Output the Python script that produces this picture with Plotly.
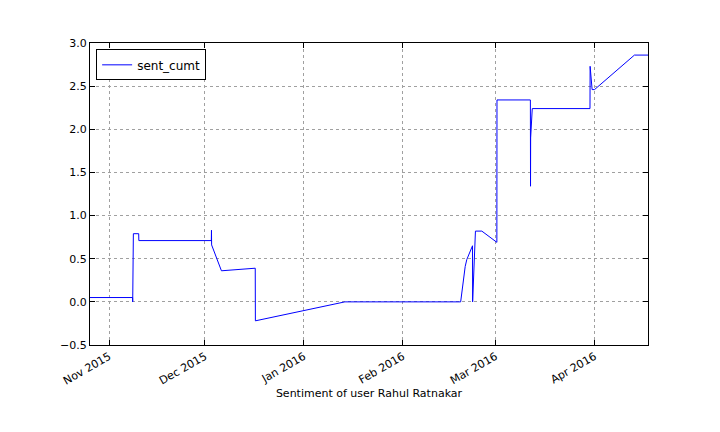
import plotly.graph_objects as go

# cumulative sentiment
dates = [
    "2015-10-26 00:00", "2015-11-08 08:00", "2015-11-08 09:00", "2015-11-08 10:00",
    "2015-11-08 11:00", "2015-11-08 12:00", "2015-11-08 13:00", "2015-11-08 14:00",
    "2015-11-10 06:00", "2015-11-10 07:00", "2015-12-03 00:00", "2015-12-03 01:00",
    "2015-12-03 02:00", "2015-12-06 04:00", "2015-12-16 18:00", "2015-12-16 19:00",
    "2016-01-13 20:00", "2016-02-19 02:00", "2016-02-19 15:00", "2016-02-20 12:00",
    "2016-02-21 00:00", "2016-02-22 19:00", "2016-02-22 20:00", "2016-02-23 17:00",
    "2016-02-25 17:00", "2016-03-01 10:00", "2016-03-01 11:00", "2016-03-11 22:00",
    "2016-03-11 23:00", "2016-03-12 00:00", "2016-03-12 12:00", "2016-03-30 14:00",
    "2016-03-30 15:00", "2016-03-31 06:00", "2016-04-01 00:00", "2016-04-13 12:00",
    "2016-04-17 18:00",
]
sent_cumt = [
    0.05, 0.05, 0.0, 0.22,
    0.12, 0.52, 0.45, 0.79,
    0.79, 0.71, 0.71, 0.83,
    0.66, 0.36, 0.39, -0.22,
    0.0, 0.0, 0.16, 0.41,
    0.49, 0.65, 0.0, 0.82,
    0.82, 0.69, 2.34, 2.34,
    1.34, 1.9, 2.24, 2.24,
    2.73, 2.46, 2.46, 2.86,
    2.86,
]

x_ticks = ["2015-11-01", "2015-12-01", "2016-01-01", "2016-02-01", "2016-03-01", "2016-04-01"]
x_labels = ["Nov 2015", "Dec 2015", "Jan 2016", "Feb 2016", "Mar 2016", "Apr 2016"]
y_ticks = [-0.5, 0.0, 0.5, 1.0, 1.5, 2.0, 2.5, 3.0]
y_labels = ["\u22120.5", "0.0", "0.5", "1.0", "1.5", "2.0", "2.5", "3.0"]

fig = go.Figure(go.Scatter(x=dates, y=sent_cumt, mode="lines", name="sent_cumt",
                           line=dict(color="#0000ff", width=1)))

axis_style = dict(showline=True, linecolor="black", linewidth=1, mirror="ticks",
                  ticks="inside", ticklen=5, tickcolor="black",
                  showgrid=True, gridcolor="#a0a0a0", griddash="dot", gridwidth=1,
                  zeroline=False, tickfont=dict(size=11, color="black"))

fig.update_xaxes(range=[dates[0], dates[-1]], tickvals=x_ticks, ticktext=x_labels,
                 tickangle=-30, title=dict(text="Sentiment of user Rahul Ratnakar",
                                           font=dict(size=11, color="black"), standoff=0),
                 **axis_style)
fig.update_yaxes(range=[-0.5, 3.0], tickvals=y_ticks, ticktext=y_labels, **axis_style)

# the page body adds an 8px offset, so margins are shifted to compensate
fig.update_layout(
    width=720, height=432,
    margin=dict(l=82, r=80, t=35, b=95),
    paper_bgcolor="white", plot_bgcolor="white",
    font=dict(family="DejaVu Sans", size=11, color="black"),
    showlegend=True,
    legend=dict(x=0.011, y=0.979, xanchor="left", yanchor="top",
                bordercolor="black", borderwidth=1, bgcolor="white",
                itemwidth=30, font=dict(size=12)),
)

fig.write_html("out.html")
